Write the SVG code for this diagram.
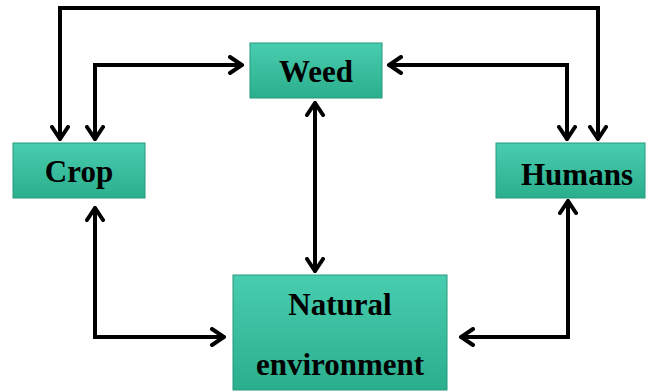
<svg xmlns="http://www.w3.org/2000/svg" width="649" height="392" viewBox="0 0 649 392">
<defs>
<linearGradient id="g" x1="0" y1="0" x2="0" y2="1">
<stop offset="0" stop-color="#49cdb0"/>
<stop offset="1" stop-color="#2aae8c"/>
</linearGradient>
<marker id="ah" viewBox="0 0 16 20" refX="15" refY="10" markerWidth="16" markerHeight="20" markerUnits="userSpaceOnUse" orient="auto-start-reverse">
<path d="M2,2 L14,10 L2,18" fill="none" stroke="#000" stroke-width="4" stroke-linejoin="miter" stroke-linecap="round"/>
</marker>
</defs>
<style>
.box{fill:url(#g);stroke:#249a7c;stroke-width:1}
.lbl{font-family:"Liberation Serif","Times New Roman",serif;font-weight:bold;font-size:31px;fill:#000;text-anchor:middle}
.c{fill:none;stroke:#000;stroke-width:4;stroke-linejoin:miter;marker-start:url(#ah);marker-end:url(#ah)}
</style>
<rect width="649" height="392" fill="#fff"/>
<g id="connectors">
<path class="c" d="M60,140 V8 H598 V140"/>
<path class="c" d="M95,140 V65 H243"/>
<path class="c" d="M388,65 H567 V140"/>
<path class="c" d="M315,102 V272"/>
<path class="c" d="M95,207 V337 H225"/>
<path class="c" d="M568,200 V337 H460"/>
</g>
<g id="crop">
<rect class="box" x="13" y="143" width="132" height="55"/>
<text class="lbl" x="79" y="182">Crop</text>
</g>
<g id="weed">
<rect class="box" x="250" y="43" width="132" height="55"/>
<text class="lbl" x="316" y="82">Weed</text>
</g>
<g id="humans">
<rect class="box" x="496" y="143" width="149" height="55"/>
<text class="lbl" x="577" y="185">Humans</text>
</g>
<g id="natural">
<rect class="box" x="233" y="275" width="214" height="115"/>
<text class="lbl" x="340" y="315">Natural</text>
<text class="lbl" x="340" y="375">environment</text>
</g>
</svg>
